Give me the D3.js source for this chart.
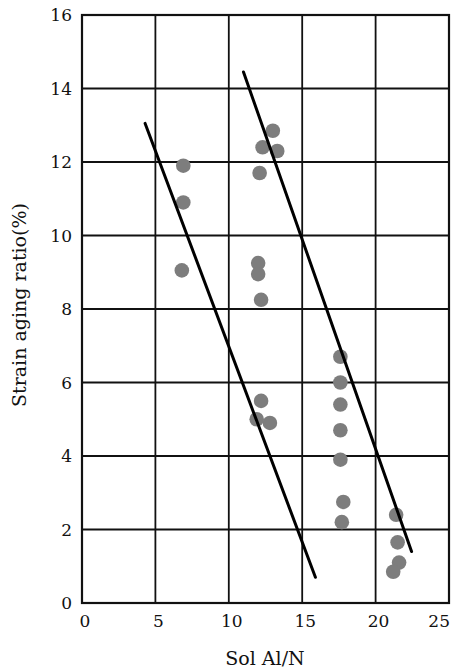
<!DOCTYPE html>
<html>
<head>
<meta charset="utf-8">
<script src="https://d3js.org/d3.v7.min.js"></script>
<style>
  body { margin: 0; background: #fff; }
  text { font-family: "DejaVu Serif", "Liberation Serif", serif; fill: #111; }
</style>
</head>
<body>
<div id="chart"></div>
<script>
// Data
const xTicks = [0, 5, 10, 15, 20, 25];
const yTicks = [0, 2, 4, 6, 8, 10, 12, 14, 16];
const pointsX = [6.9, 6.9, 6.8,
  13.0, 12.3, 13.3, 12.1, 12.0, 12.0, 12.2,
  12.2, 11.9, 12.8,
  17.6, 17.6, 17.6, 17.6, 17.6, 17.8, 17.7,
  21.4, 21.5, 21.6, 21.2];
const pointsY = [11.9, 10.9, 9.05,
  12.85, 12.4, 12.3, 11.7, 9.25, 8.95, 8.25,
  5.5, 5.0, 4.9,
  6.7, 6.0, 5.4, 4.7, 3.9, 2.75, 2.2,
  2.4, 1.65, 1.1, 0.85];
const line1 = [[4.3, 13.05], [15.9, 0.7]];
const line2 = [[11.0, 14.45], [22.45, 1.4]];

const W = 451, H = 671;
const margin = { top: 15, right: 2, bottom: 68, left: 82 };

const svg = d3.select("#chart").append("svg")
  .attr("width", W).attr("height", H);

const x = d3.scaleLinear().domain([0, 25]).range([margin.left, W - margin.right]);
const y = d3.scaleLinear().domain([0, 16]).range([H - margin.bottom, margin.top]);

// Grid
svg.append("g").selectAll("line").data(xTicks.slice(1, -1)).join("line")
  .attr("x1", d => x(d)).attr("x2", d => x(d))
  .attr("y1", y(16)).attr("y2", y(0))
  .attr("stroke", "#111").attr("stroke-width", 1.8);
svg.append("g").selectAll("line").data(yTicks.slice(1, -1)).join("line")
  .attr("x1", x(0)).attr("x2", x(25))
  .attr("y1", d => y(d)).attr("y2", d => y(d))
  .attr("stroke", "#111").attr("stroke-width", 1.8);

// Frame
svg.append("rect")
  .attr("x", x(0)).attr("y", y(16))
  .attr("width", x(25) - x(0)).attr("height", y(0) - y(16))
  .attr("fill", "none").attr("stroke", "#111").attr("stroke-width", 2.2);

// Tick labels
svg.append("g").selectAll("text").data(xTicks).join("text")
  .attr("x", d => d === 25 ? W - 1 : x(d) + 3).attr("y", y(0) + 24)
  .attr("text-anchor", d => d === 25 ? "end" : "middle")
  .style("font-size", "17px")
  .text(d => d);
svg.append("g").selectAll("text").data(yTicks).join("text")
  .attr("x", x(0) - 10).attr("y", d => y(d) + 6)
  .attr("text-anchor", "end")
  .style("font-size", "17px")
  .text(d => d);

// Points
svg.append("g").selectAll("circle").data(pointsX.map((d, i) => [d, pointsY[i]])).join("circle")
  .attr("cx", d => x(d[0])).attr("cy", d => y(d[1]))
  .attr("r", 7.3)
  .attr("fill", "#7d7d7d");

// Regression lines
const line = d3.line().x(d => x(d[0])).y(d => y(d[1]));
[line1, line2].forEach(l => {
  svg.append("path")
    .attr("d", line(l))
    .attr("fill", "none")
    .attr("stroke", "#000")
    .attr("stroke-width", 3)
    .attr("stroke-linecap", "round");
});

// Axis titles
svg.append("text")
  .attr("x", 265).attr("y", 665)
  .attr("text-anchor", "middle")
  .style("font-size", "19px")
  .text("Sol Al/N");
svg.append("text")
  .attr("transform", "translate(26,305) rotate(-90)")
  .attr("text-anchor", "middle")
  .style("font-size", "19px")
  .text("Strain aging ratio(%)");
</script>
</body>
</html>
